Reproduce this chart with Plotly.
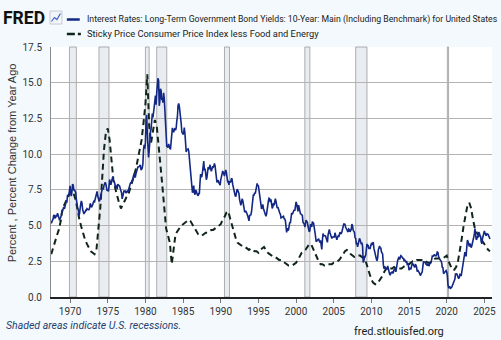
import plotly.graph_objects as go
import pandas as pd

# ---------------- data ----------------
bond_start = "1967-07-01"
bond_yield_10y = [
    5.16, 5.28, 5.30, 5.48, 5.75, 5.70,
    5.53, 5.56, 5.74, 5.64, 5.87, 5.72, 5.50, 5.42, 5.46, 5.58, 5.70, 6.03,
    6.04, 6.19, 6.30, 6.17, 6.32, 6.57, 6.72, 6.69, 7.16, 7.10, 7.14, 7.65,
    7.79, 7.24, 7.07, 7.39, 7.91, 7.84, 7.46, 7.53, 7.39, 7.33, 6.84, 6.39,
    6.24, 6.11, 5.70, 5.83, 6.39, 6.52, 6.73, 6.58, 6.14, 5.93, 5.81, 5.93,
    5.95, 6.08, 6.07, 6.19, 6.13, 6.11, 6.11, 6.21, 6.55, 6.48, 6.28, 6.36,
    6.46, 6.64, 6.71, 6.67, 6.85, 6.90, 7.13, 7.40, 7.09, 6.79, 6.73, 6.74,
    6.99, 6.96, 7.21, 7.51, 7.58, 7.54, 7.81, 8.04, 8.04, 7.90, 7.68, 7.43,
    7.50, 7.39, 7.73, 8.23, 8.06, 7.86, 8.06, 8.40, 8.43, 8.14, 8.05, 8.00,
    7.74, 7.79, 7.73, 7.56, 7.90, 7.86, 7.83, 7.77, 7.59, 7.41, 7.29, 6.87,
    7.21, 7.39, 7.46, 7.37, 7.46, 7.28, 7.33, 7.40, 7.34, 7.52, 7.58, 7.69,
    7.96, 8.03, 8.04, 8.15, 8.35, 8.46, 8.64, 8.41, 8.42, 8.64, 8.81, 9.01,
    9.10, 9.10, 9.12, 9.18, 9.25, 8.91, 8.95, 9.03, 9.33, 10.30, 10.65, 10.39,
    10.80, 12.41, 12.75, 11.47, 10.18, 9.78, 10.25, 11.10, 11.51, 11.75, 12.68, 12.84,
    12.57, 13.19, 13.12, 13.68, 14.10, 13.47, 14.28, 14.94, 15.32, 15.15, 13.39, 13.72,
    14.59, 14.43, 13.86, 13.87, 13.62, 14.30, 13.95, 13.06, 12.34, 10.91, 10.55, 10.54,
    10.46, 10.72, 10.51, 10.40, 10.38, 10.85, 11.38, 11.85, 11.65, 11.54, 11.69, 11.83,
    11.67, 11.84, 12.32, 12.63, 13.41, 13.56, 13.36, 12.72, 12.52, 12.16, 11.57, 11.50,
    11.38, 11.51, 11.86, 11.43, 10.85, 10.16, 10.31, 10.33, 10.37, 10.24, 9.78, 9.26,
    9.19, 8.70, 7.78, 7.30, 7.71, 7.80, 7.30, 7.17, 7.45, 7.43, 7.25, 7.11,
    7.08, 7.25, 7.25, 8.02, 8.61, 8.40, 8.45, 8.76, 9.42, 9.52, 8.86, 8.99,
    8.67, 8.21, 8.37, 8.72, 9.09, 8.92, 9.06, 9.26, 8.98, 8.80, 8.96, 9.11,
    9.09, 9.17, 9.36, 9.18, 8.86, 8.28, 8.02, 8.11, 8.19, 8.01, 7.87, 7.84,
    8.21, 8.47, 8.59, 8.79, 8.76, 8.48, 8.47, 8.75, 8.89, 8.72, 8.39, 8.08,
    8.09, 7.85, 8.11, 8.04, 8.07, 8.28, 8.27, 7.90, 7.65, 7.53, 7.42, 7.09,
    7.03, 7.34, 7.54, 7.48, 7.39, 7.26, 6.84, 6.59, 6.42, 6.59, 6.87, 6.77,
    6.60, 6.26, 5.98, 5.97, 6.04, 5.96, 5.81, 5.68, 5.36, 5.33, 5.72, 5.77,
    5.75, 5.97, 6.48, 6.97, 7.18, 7.10, 7.30, 7.24, 7.46, 7.74, 7.96, 7.81,
    7.78, 7.47, 7.20, 7.06, 6.63, 6.17, 6.28, 6.49, 6.20, 6.04, 5.93, 5.71,
    5.65, 5.81, 6.27, 6.51, 6.74, 6.91, 6.87, 6.64, 6.83, 6.53, 6.20, 6.30,
    6.58, 6.42, 6.69, 6.89, 6.71, 6.49, 6.22, 6.30, 6.21, 6.03, 5.88, 5.81,
    5.54, 5.57, 5.65, 5.64, 5.65, 5.50, 5.46, 5.34, 4.81, 4.53, 4.83, 4.65,
    4.72, 5.00, 5.23, 5.18, 5.54, 5.90, 5.79, 5.94, 5.92, 6.11, 6.03, 6.28,
    6.66, 6.52, 6.26, 5.99, 6.44, 6.10, 6.05, 5.83, 5.80, 5.74, 5.72, 5.24,
    5.16, 5.10, 4.89, 5.14, 5.39, 5.28, 5.24, 4.97, 4.73, 4.57, 4.65, 5.09,
    5.04, 4.91, 5.28, 5.21, 5.16, 4.93, 4.65, 4.26, 3.87, 3.94, 4.05, 4.03,
    4.05, 3.90, 3.81, 3.96, 3.57, 3.33, 3.98, 4.45, 4.27, 4.29, 4.30, 4.27,
    4.15, 4.08, 3.83, 4.35, 4.72, 4.73, 4.50, 4.28, 4.13, 4.10, 4.19, 4.23,
    4.22, 4.17, 4.50, 4.34, 4.14, 4.00, 4.18, 4.26, 4.20, 4.46, 4.54, 4.47,
    4.42, 4.57, 4.72, 4.99, 5.11, 5.11, 5.09, 4.88, 4.72, 4.73, 4.60, 4.56,
    4.76, 4.72, 4.56, 4.69, 4.75, 5.10, 5.00, 4.67, 4.52, 4.53, 4.15, 4.10,
    3.74, 3.74, 3.51, 3.68, 3.88, 4.10, 4.01, 3.89, 3.69, 3.81, 3.53, 2.42,
    2.52, 2.87, 2.82, 2.93, 3.29, 3.72, 3.56, 3.59, 3.40, 3.39, 3.40, 3.59,
    3.73, 3.69, 3.73, 3.85, 3.42, 3.20, 3.01, 2.70, 2.65, 2.54, 2.76, 3.29,
    3.39, 3.58, 3.41, 3.46, 3.17, 3.00, 3.00, 2.30, 1.98, 2.15, 2.01, 1.98,
    1.97, 1.97, 2.17, 2.05, 1.80, 1.62, 1.53, 1.68, 1.72, 1.75, 1.65, 1.72,
    1.91, 1.98, 1.96, 1.76, 1.93, 2.30, 2.58, 2.74, 2.81, 2.62, 2.72, 2.90,
    2.86, 2.71, 2.72, 2.71, 2.56, 2.60, 2.54, 2.42, 2.53, 2.30, 2.33, 2.21,
    1.88, 1.98, 2.04, 1.94, 2.20, 2.36, 2.32, 2.17, 2.17, 2.07, 2.26, 2.24,
    2.09, 1.78, 1.89, 1.81, 1.81, 1.64, 1.50, 1.56, 1.63, 1.76, 2.14, 2.49,
    2.43, 2.42, 2.48, 2.30, 2.30, 2.19, 2.32, 2.21, 2.20, 2.36, 2.35, 2.40,
    2.58, 2.86, 2.84, 2.87, 2.98, 2.91, 2.89, 2.89, 3.00, 3.15, 3.12, 2.83,
    2.71, 2.68, 2.57, 2.53, 2.40, 2.07, 2.06, 1.63, 1.70, 1.71, 1.81, 1.86,
    1.76, 1.50, 0.87, 0.66, 0.67, 0.73, 0.62, 0.65, 0.68, 0.79, 0.87, 0.93,
    1.08, 1.26, 1.61, 1.64, 1.62, 1.52, 1.32, 1.28, 1.37, 1.58, 1.56, 1.47,
    1.76, 1.93, 2.13, 2.75, 2.90, 3.14, 2.90, 2.90, 3.52, 3.98, 3.89, 3.62,
    3.53, 3.75, 3.66, 3.46, 3.57, 3.75, 3.90, 4.17, 4.38, 4.80, 4.50, 4.02,
    4.06, 4.21, 4.21, 4.54, 4.48, 4.31, 4.25, 3.87, 3.72, 4.10, 4.36, 4.39,
    4.63, 4.45, 4.28, 4.28, 4.42, 4.38, 4.39, 4.26, 4.12, 4.06,
]

sticky_start = "1967-07-01"
sticky_cpi_core = [
    3.0, 3.5,
    4.0, 4.3, 4.7, 5.3,
    6.2, 6.5, 6.8, 7.1,
    7.3, 7.4, 7.2, 6.8,
    6.0, 5.4, 4.9, 4.4,
    4.0, 3.7, 3.4, 3.2,
    3.1, 3.0, 3.3, 4.6,
    6.2, 8.2, 10.3, 11.5,
    11.8, 11.0, 9.3, 8.2,
    7.6, 7.0, 6.6, 6.2,
    6.5, 6.8, 7.0, 7.2,
    7.6, 8.0, 8.5, 9.0,
    9.6, 10.2, 11.0, 12.2,
    13.5, 15.6, 12.0, 10.8,
    11.5, 12.4, 12.0, 10.8,
    9.2, 7.8, 6.4, 4.8,
    4.3, 3.8, 2.3, 3.6,
    4.4, 4.6, 4.8, 5.0,
    5.1, 5.2, 5.3, 5.4,
    5.3, 5.1, 4.9, 4.6,
    4.4, 4.3, 4.3, 4.4,
    4.5, 4.5, 4.6, 4.7,
    4.7, 4.8, 4.9, 5.0,
    5.1, 5.4, 5.6, 5.9,
    6.0, 5.5, 5.0, 4.4,
    4.1, 3.8, 3.7, 3.6,
    3.5, 3.5, 3.4, 3.3,
    3.4, 3.3, 3.2, 3.2,
    3.1, 3.3, 3.4, 3.5,
    3.3, 3.1, 3.0, 2.9,
    2.8, 2.8, 2.7, 2.6,
    2.6, 2.5, 2.4, 2.3,
    2.2, 2.2, 2.2, 2.3,
    2.4, 2.6, 2.9, 3.1,
    3.2, 3.3, 3.5, 3.7,
    3.7, 3.4, 3.0, 2.8,
    2.5, 2.3, 2.3, 2.2,
    2.2, 2.3, 2.3, 2.3,
    2.4, 2.4, 2.5, 2.6,
    2.8, 3.0, 3.2, 3.3,
    3.2, 3.0, 2.9, 2.8,
    2.8, 2.9, 2.9, 2.8,
    2.7, 2.5, 2.1, 1.7,
    1.2, 1.0, 0.9, 0.9,
    1.1, 1.3, 1.5, 1.8,
    2.0, 2.1, 2.0, 2.0,
    2.1, 2.0, 2.0, 2.0,
    2.0, 2.1, 2.2, 2.3,
    2.3, 2.4, 2.5, 2.5,
    2.6, 2.6, 2.6, 2.6,
    2.6, 2.5, 2.4, 2.4,
    2.5, 2.6, 2.7, 2.7,
    2.7, 2.7, 2.7, 2.8,
    2.9, 2.5, 2.2, 1.9,
    1.9, 2.1, 2.5, 3.2,
    4.1, 5.0, 5.8, 6.4,
    6.6, 6.2, 5.4, 4.8,
    4.5, 4.3, 4.1, 3.9,
    3.7, 3.5, 3.3, 3.2,
]

recession_starts = ["1969-12-01", "1973-11-01", "1980-01-01", "1981-07-01",
                    "1990-07-01", "2001-03-01", "2007-12-01", "2020-02-01"]
recession_ends = ["1970-11-01", "1975-03-01", "1980-07-01", "1982-11-01",
                  "1991-03-01", "2001-11-01", "2009-06-01", "2020-04-01"]

tick_years = list(range(1970, 2030, 5))
y_tick_values = [0, 2.5, 5, 7.5, 10, 12.5, 15, 17.5]
y_tick_labels = ["0.0", "2.5", "5.0", "7.5", "10.0", "12.5", "15.0", "17.5"]

series_names = [
    "Interest Rates: Long-Term Government Bond Yields: 10-Year: Main (Including Benchmark) for United States",
    "Sticky Price Consumer Price Index less Food and Energy",
]
y_title = "Percent , Percent Change from Year Ago"
footer_left = "Shaded areas indicate U.S. recessions."
footer_right = "fred.stlouisfed.org"

# ---------------- layout helpers ----------------
W, H = 501, 340
L, R, T, B = 51, 5, 47, 43
PW, PH = W - L - R, H - T - B


def px(x):
    return (x - L) / PW


def py(y):
    return (H - B - y) / PH


NARROW = "Roboto, Liberation Sans, sans-serif"
NAVY = "#132884"
DARK = "#10251a"

bond_dates = pd.date_range(bond_start, periods=len(bond_yield_10y), freq="MS")
sticky_dates = pd.date_range(sticky_start, periods=len(sticky_cpi_core), freq="QS")

fig = go.Figure()
fig.add_trace(go.Scatter(x=sticky_dates, y=sticky_cpi_core, mode="lines",
                         name=series_names[1],
                         line=dict(color=DARK, width=2, dash="6px,4px")))
fig.add_trace(go.Scatter(x=bond_dates, y=bond_yield_10y, mode="lines",
                         name=series_names[0],
                         line=dict(color=NAVY, width=1.6)))

shapes = []
for s, e in zip(recession_starts, recession_ends):
    shapes.append(dict(type="rect", xref="x", yref="paper", x0=s, x1=e, y0=0, y1=1,
                       fillcolor="rgba(196,205,218,0.38)",
                       line=dict(color="rgba(150,150,150,0.75)", width=1),
                       layer="below"))

# legend swatches
shapes.append(dict(type="line", xref="paper", yref="paper", x0=px(67), x1=px(80),
                   y0=py(19.5), y1=py(19.5), line=dict(color=NAVY, width=2.5)))
shapes.append(dict(type="line", xref="paper", yref="paper", x0=px(67), x1=px(82),
                   y0=py(34), y1=py(34), line=dict(color=DARK, width=2.5, dash="8px,3px,3px")))
# FRED icon
shapes.append(dict(type="rect", xref="paper", yref="paper", x0=px(50), x1=px(62),
                   y0=py(24), y1=py(11), fillcolor="#f3f5f9",
                   line=dict(color="#c6cad3", width=1)))
icon_path = "M {},{} L {},{} L {},{} L {},{}".format(
    px(51.5), py(21.5), px(54.5), py(17.5), px(57), py(19.5), px(60.5), py(13.5))
shapes.append(dict(type="path", xref="paper", yref="paper", path=icon_path,
                   line=dict(color="#3b63c4", width=1.2)))

annotations = [
    dict(text="<b>FRED</b>", x=px(1), y=py(18.5), xanchor="left", yanchor="middle",
         font=dict(family=NARROW, size=17.5, color="#111111")),
    dict(text=series_names[0], x=px(85), y=py(19.5), xanchor="left", yanchor="middle",
         font=dict(family=NARROW, size=8.7, color="#1a1a1a")),
    dict(text=series_names[1], x=px(85), y=py(34), xanchor="left", yanchor="middle",
         font=dict(family=NARROW, size=9.3, color="#1a1a1a")),
    dict(text=y_title, x=px(12), y=py(163), xanchor="center", yanchor="middle",
         textangle=-90, font=dict(family="Liberation Sans, Arial, sans-serif", size=11, color="#333333")),
    dict(text="<i>" + footer_left + "</i>", x=px(4), y=py(325), xanchor="left",
         yanchor="middle", font=dict(family=NARROW, size=10.5, color="#1f3f73")),
    dict(text=footer_right, x=px(355), y=py(331.5), xanchor="left", yanchor="middle",
         font=dict(family=NARROW, size=11, color="#222222")),
]
for a in annotations:
    a.update(xref="paper", yref="paper", showarrow=False)

fig.update_layout(
    width=W, height=H,
    margin=dict(l=L, r=R, t=T, b=B, pad=0),
    paper_bgcolor="#f3f9fc",
    plot_bgcolor="#ffffff",
    showlegend=False,
    shapes=shapes,
    annotations=annotations,
    xaxis=dict(
        type="date",
        range=["1967-06-20", "2026-01-05"],
        tickvals=[f"{y}-01-01" for y in tick_years],
        ticktext=[str(y) for y in tick_years],
        showgrid=False,
        showline=True, linecolor="#222222", linewidth=1.5,
        ticks="outside", ticklen=4, tickcolor="#777777", tickwidth=1,
        tickfont=dict(family=NARROW, size=10, color="#333333"),
        zeroline=False,
    ),
    yaxis=dict(
        range=[0, 17.51],
        tickvals=y_tick_values,
        ticktext=y_tick_labels,
        showgrid=True, gridcolor="#b3b3b3", gridwidth=1,
        showline=True, linecolor="#8c8c8c", linewidth=1,
        ticks="", ticklabelstandoff=6,
        tickfont=dict(family=NARROW, size=10, color="#333333"),
        zeroline=False,
    ),
)

fig.write_html("out.html")
